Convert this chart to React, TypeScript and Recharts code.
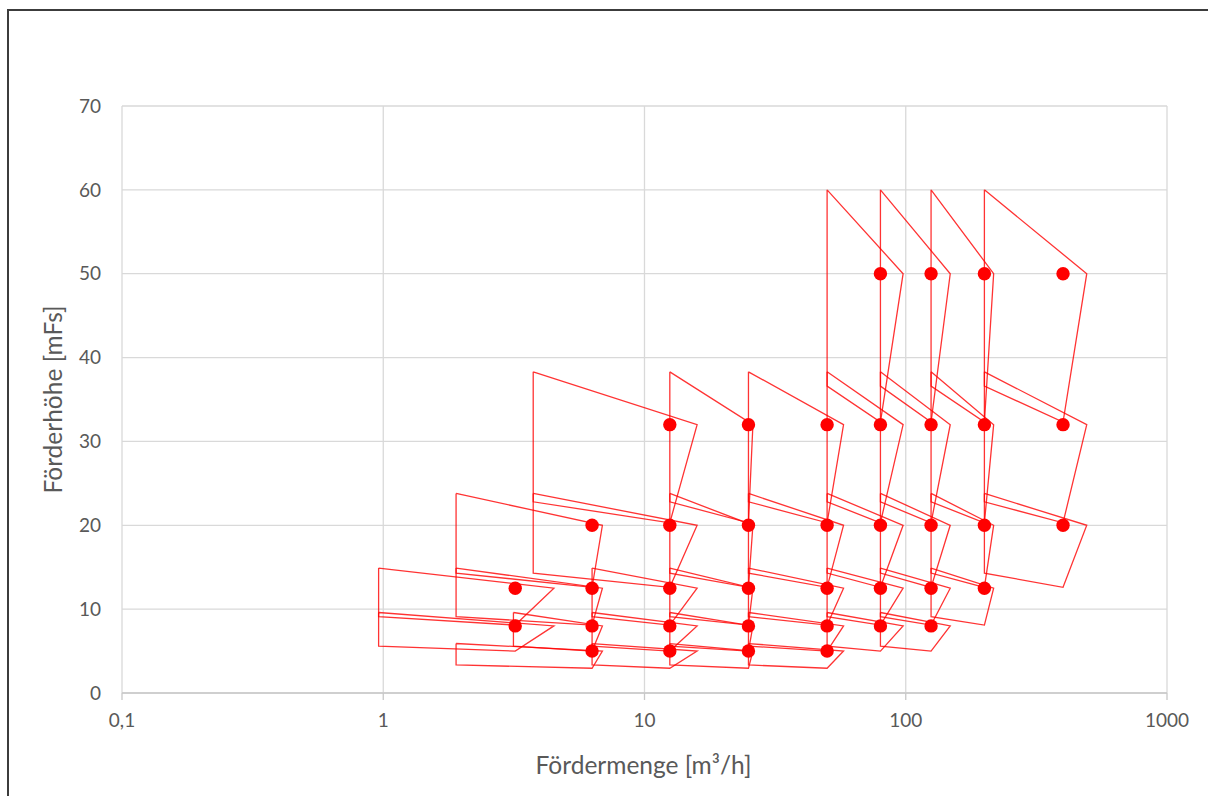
import React from 'react';
import { ScatterChart, Scatter, XAxis, YAxis, CartesianGrid, Label } from 'recharts';

// nominal flow of each pump column [m³/h]
const flowColumns = [3.2, 6.3, 12.5, 25, 50, 80, 125, 200, 400];
// flow at the right-hand tip of the fields in each column
const tipFlows = [4.5, 6.9, 15.9, 26, 57.8, 97.7, 148, 217, 493];
// nominal heads that exist in each column [m]
const columnHeads = [
  [12.5, 8],
  [20, 12.5, 8, 5],
  [32, 20, 12.5, 8, 5],
  [32, 20, 12.5, 8, 5],
  [32, 20, 12.5, 8, 5],
  [50, 32, 20, 12.5, 8],
  [50, 32, 20, 12.5, 8],
  [50, 32, 20, 12.5],
  [50, 32, 20],
];
// flow at the left edge of each field
const leftFlows = [
  [0.96, 0.96],
  [1.9, 1.9, 3.15, 1.9],
  [3.75, 3.75, 6.3, 6.3, 6.3],
  [12.5, 12.5, 12.5, 12.5, 12.5],
  [25, 25, 25, 25, 25],
  [50, 50, 50, 50, 50],
  [80, 80, 80, 80, 80],
  [125, 125, 125, 125],
  [200, 200, 200],
];
// per nominal head: head at top-left, lower-right and bottom-left corner of a field
const headLevels = [50, 32, 20, 12.5, 8, 5];
const topHeads = [60, 38.3, 23.8, 14.9, 9.6, 5.9];
const cornerHeads = [32.3, 20.3, 12.6, 8.1, 5, 2.95];
const bottomHeads = [36.6, 22.8, 14.3, 9.1, 5.6, 3.35];

const xTicks = [0.1, 1, 10, 100, 1000];
const yTicks = [0, 10, 20, 30, 40, 50, 60, 70];

const textColor = '#595959';
const font = 'Lato, "Open Sans", sans-serif';

const points = flowColumns.flatMap((q, i) => columnHeads[i].map((h) => ({ x: q, y: h })));

const fields = flowColumns.flatMap((q, i) =>
  columnHeads[i].map((h, j) => {
    const k = headLevels.indexOf(h);
    const left = leftFlows[i][j];
    return [
      { x: left, y: topHeads[k] },
      { x: tipFlows[i], y: h },
      { x: q, y: cornerHeads[k] },
      { x: left, y: bottomHeads[k] },
      { x: left, y: topHeads[k] },
    ];
  })
);

const fmt = (v: number) => String(v).replace('.', ',');

const XTitle = (props: any) => {
  const vb = props.viewBox;
  return (
    <text
      x={vb.x + vb.width / 2 - 1}
      y={vb.y + 71}
      textAnchor="middle"
      dominantBaseline="central"
      fill={textColor}
      fontSize={24.5}
      fontFamily={font}
    >
      Fördermenge [m³/h]
    </text>
  );
};

const YTitle = (props: any) => {
  const vb = props.viewBox;
  const x = vb.x + 30;
  const y = vb.y + vb.height / 2;
  return (
    <text
      x={x}
      y={y}
      transform={`rotate(-90, ${x}, ${y})`}
      textAnchor="middle"
      dominantBaseline="central"
      fill={textColor}
      fontSize={24.5}
      fontFamily={font}
    >
      Förderhöhe [mFs]
    </text>
  );
};

const Dot = (props: any) => <circle cx={props.cx} cy={props.cy} r={6.7} fill="#ff0000" />;
const NoDot = () => <g />;

export default function App() {
  return (
    <div style={{ position: 'fixed', left: 0, top: 0, width: 1208, height: 796, overflow: 'hidden', background: '#fff' }}>
      <div
        style={{
          position: 'absolute',
          left: 7,
          top: 9,
          width: 1400,
          height: 1000,
          border: '2px solid #3c3c3c',
        }}
      />
      <div style={{ position: 'absolute', left: 0, top: 0 }}>
        <ScatterChart width={1208} height={796} margin={{ top: 106, right: 41, bottom: 0, left: 22 }}>
          <CartesianGrid stroke="#d9d9d9" strokeWidth={1.3} />
          <XAxis
            dataKey="x"
            type="number"
            scale="log"
            domain={[0.1, 1000]}
            ticks={xTicks}
            allowDataOverflow
            tickFormatter={fmt}
            height={103}
            axisLine={{ stroke: '#c8c8c8', strokeWidth: 1.3 }}
            tickLine={{ stroke: '#c8c8c8', strokeWidth: 1.3 }}
            tickSize={7}
            tickMargin={14}
            tick={{ fill: textColor, fontSize: 19, fontFamily: font }}
          >
            <Label content={XTitle} />
          </XAxis>
          <YAxis
            dataKey="y"
            type="number"
            domain={[0, 70]}
            ticks={yTicks}
            width={100}
            axisLine={false}
            tickLine={false}
            tickSize={0}
            tickMargin={21}
            tick={{ fill: textColor, fontSize: 19, fontFamily: font }}
          >
            <Label content={YTitle} />
          </YAxis>
          {fields.map((f, i) => (
            <Scatter
              key={'field' + i}
              data={f}
              shape={NoDot}
              line={{ stroke: '#ff0000', strokeWidth: 1.3, strokeOpacity: 0.8 }}
              lineType="joint"
              isAnimationActive={false}
            />
          ))}
          <Scatter data={points} shape={Dot} isAnimationActive={false} />
        </ScatterChart>
      </div>
    </div>
  );
}
